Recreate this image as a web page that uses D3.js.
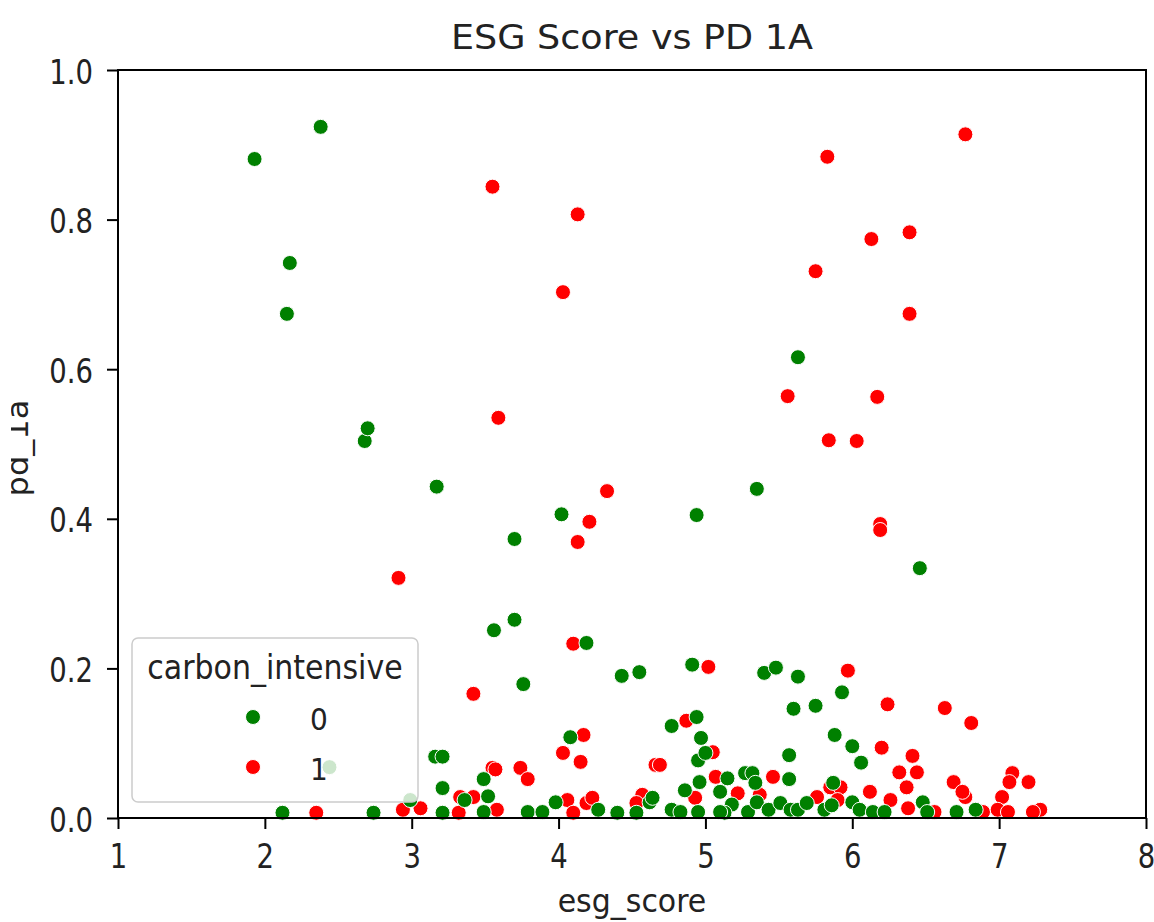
<!DOCTYPE html>
<html><head><meta charset="utf-8">
<script src="https://cdn.jsdelivr.net/npm/d3@7"></script>
<style>html,body{margin:0;padding:0;background:#fff;}svg{display:block;font-family:"DejaVu Sans",sans-serif;}</style>
</head><body>
<script>
const title = "ESG Score vs PD 1A";
const xLabel = "esg_score";
const yLabel = "pd_1a";
const legendTitle = "carbon_intensive";
const categories = ["0", "1"];
const colors = ["#008000", "#ff0000"];
const xTicks = [1, 2, 3, 4, 5, 6, 7, 8];
const yTicks = [0, 0.2, 0.4, 0.6, 0.8, 1.0];

const greenX = [1.93,2.38,2.17,2.15,2.68,2.70,3.17,3.70,4.02,4.94,5.35,5.63,6.46,3.56,3.70,3.76,4.19,4.43,4.55,4.91,5.40,5.48,5.63,5.93,5.60,5.75,4.77,4.94,4.08,4.97,5.88,6.00,6.06,5.57,4.95,5.00,3.16,3.21,3.21,3.49,3.52,3.36,3.21,2.12,2.74,2.44,2.99,3.49,3.79,3.89,3.98,4.27,4.40,4.53,4.62,4.64,4.77,4.83,4.95,4.86,4.96,5.10,5.15,5.27,5.32,5.34,5.18,5.13,5.29,5.35,5.43,5.57,5.51,5.58,5.63,5.69,5.81,5.87,5.86,6.00,6.05,6.14,6.22,6.48,6.51,6.71,6.84,5.10];
const greenY = [0.881,0.924,0.742,0.674,0.504,0.521,0.443,0.373,0.406,0.405,0.440,0.616,0.334,0.251,0.265,0.179,0.234,0.190,0.195,0.205,0.194,0.201,0.189,0.168,0.146,0.150,0.123,0.135,0.108,0.107,0.111,0.096,0.074,0.084,0.077,0.087,0.082,0.082,0.040,0.052,0.029,0.024,0.007,0.007,0.007,0.068,0.024,0.008,0.008,0.008,0.021,0.011,0.007,0.007,0.021,0.027,0.011,0.008,0.008,0.037,0.048,0.035,0.053,0.060,0.060,0.047,0.018,0.007,0.008,0.021,0.011,0.052,0.020,0.011,0.011,0.020,0.011,0.047,0.017,0.021,0.011,0.008,0.008,0.021,0.008,0.008,0.011,0.008];

const redX = [3.55,4.13,4.03,3.59,4.33,4.21,4.13,2.91,5.83,6.77,6.13,6.39,5.75,6.39,5.56,6.17,5.84,6.03,6.19,6.19,4.10,5.02,5.97,3.42,6.24,6.63,6.81,4.87,6.20,6.41,6.32,6.44,6.37,6.69,7.09,7.07,7.20,6.12,6.26,6.77,6.75,7.02,5.76,5.46,5.85,5.92,5.90,4.17,4.03,4.15,3.55,3.57,3.74,3.79,4.66,4.69,5.05,5.07,5.22,5.37,4.93,4.57,4.53,4.19,4.23,4.06,4.10,3.58,3.33,3.42,3.32,2.35,2.94,3.06,6.38,6.56,6.89,6.99,7.06,7.28,7.23];
const redY = [0.844,0.807,0.703,0.535,0.437,0.396,0.369,0.321,0.884,0.914,0.774,0.783,0.731,0.674,0.564,0.563,0.505,0.504,0.393,0.385,0.233,0.202,0.197,0.166,0.152,0.147,0.127,0.130,0.094,0.083,0.061,0.061,0.041,0.048,0.060,0.048,0.048,0.035,0.024,0.028,0.035,0.028,0.028,0.055,0.041,0.041,0.024,0.111,0.087,0.075,0.067,0.065,0.067,0.052,0.071,0.071,0.088,0.055,0.033,0.031,0.027,0.031,0.020,0.020,0.027,0.024,0.007,0.011,0.028,0.028,0.007,0.007,0.011,0.013,0.013,0.008,0.008,0.011,0.008,0.011,0.008];

const W = 1154, H = 922;
const mLeft = 118, mRight = 1146, mTop = 70, mBottom = 818;

const svg = d3.select("body").append("svg").attr("width", W).attr("height", H);

const x = d3.scaleLinear().domain([1, 8]).range([mLeft, mRight]);
const y = d3.scaleLinear().domain([0, 1]).range([mBottom, mTop]);

// points: red first, then green
const pts = [];
redX.forEach((v, i) => pts.push({x: v, y: redY[i], c: 1}));
greenX.forEach((v, i) => pts.push({x: v, y: greenY[i], c: 0}));

svg.append("g").selectAll("circle").data(pts).join("circle")
  .attr("cx", d => x(d.x)).attr("cy", d => y(d.y)).attr("r", 7.5)
  .attr("fill", d => colors[d.c]).attr("stroke", "#fff").attr("stroke-width", 1);

// axes
const tickFont = 27.5, tickSY = 1.22;
const xAxis = svg.append("g").attr("transform", `translate(0,${mBottom})`)
  .call(d3.axisBottom(x).tickValues(xTicks).tickFormat(d3.format("d")).tickSize(11).tickSizeOuter(0));
const yAxis = svg.append("g").attr("transform", `translate(${mLeft},0)`)
  .call(d3.axisLeft(y).tickValues(yTicks).tickFormat(d3.format(".1f")).tickSize(11).tickSizeOuter(0));
[xAxis, yAxis].forEach(g => {
  g.select(".domain").remove();
  g.selectAll(".tick line").attr("stroke", "#000").attr("stroke-width", 2);
  g.selectAll(".tick text").attr("fill", "#222").style("font-size", tickFont + "px").style("font-family", "DejaVu Sans");
});
xAxis.selectAll(".tick text").attr("y", null).attr("dy", null)
  .attr("transform", `translate(0,50) scale(1,${tickSY})`);
yAxis.selectAll(".tick text").attr("x", null).attr("dy", null).attr("text-anchor", "end")
  .attr("transform", `translate(-25,13) scale(1,${tickSY})`);

// frame
svg.append("rect").attr("x", mLeft).attr("y", mTop).attr("width", mRight - mLeft).attr("height", mBottom - mTop)
  .attr("fill", "none").attr("stroke", "#000").attr("stroke-width", 2);

// title
svg.append("text").attr("text-anchor", "middle").attr("fill", "#222")
  .style("font-size", "36.5px")
  .attr("transform", `translate(${(mLeft + mRight) / 2},49) scale(1,0.92)`).text(title);

// x label
svg.append("text").attr("text-anchor", "middle").attr("fill", "#222")
  .style("font-size", "30px")
  .attr("transform", `translate(${(mLeft + mRight) / 2},912) scale(1,1.07)`).text(xLabel);

// y label (clipped at left edge)
svg.append("clipPath").attr("id", "ylclip").append("rect").attr("x", 11).attr("y", 0).attr("width", 100).attr("height", H);
svg.append("g").attr("clip-path", "url(#ylclip)").append("text")
  .attr("text-anchor", "middle").attr("fill", "#222").style("font-size", "30px")
  .attr("transform", `translate(28,448) rotate(-90) scale(1.07,1)`).text(yLabel);

// legend
const lg = svg.append("g");
lg.append("rect").attr("x", 132).attr("y", 638).attr("width", 286).attr("height", 164).attr("rx", 6)
  .attr("fill", "#fff").attr("fill-opacity", 0.8).attr("stroke", "#ccc").attr("stroke-width", 1.5);
lg.append("text").attr("text-anchor", "middle").attr("fill", "#222").style("font-size", "30px")
  .attr("transform", `translate(275,679) scale(1,1.13)`).text(legendTitle);
const rows = [717, 767];
categories.forEach((c, i) => {
  lg.append("circle").attr("cx", 253).attr("cy", rows[i]).attr("r", 7.5)
    .attr("fill", colors[i]).attr("stroke", "#fff").attr("stroke-width", 1);
  lg.append("text").attr("fill", "#222").style("font-size", "28px")
    .attr("transform", `translate(310,${rows[i] + 13}) scale(1,1.1)`).text(c);
});
</script>
</body></html>
